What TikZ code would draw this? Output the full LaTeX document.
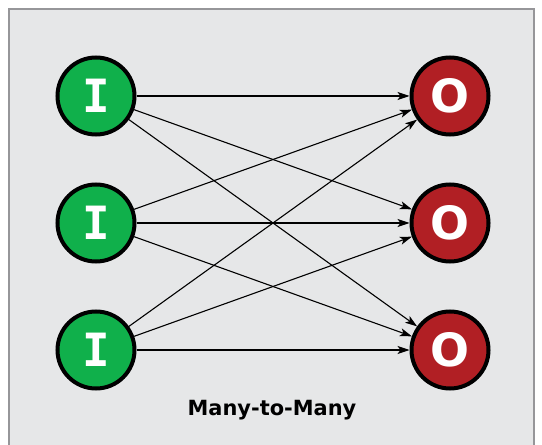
\documentclass[tikz,border=0pt]{standalone}
\usepackage{fontspec}
\setmainfont{DejaVu Sans}
\newfontfamily\slabfont{DejaVu Sans Mono}
\usepackage{tikz}
\usetikzlibrary{arrows.meta}

\definecolor{ingreen}{RGB}{16,176,75}
\definecolor{outred}{RGB}{177,31,36}
\definecolor{panelgray}{RGB}{230,231,232}
\definecolor{framegray}{RGB}{150,150,153}

\tikzset{
    inbox/.style={circle, draw=black, line width=4bp, fill=ingreen, minimum size=77bp, inner sep=0pt, text=white, font=\slabfont\bfseries\fontsize{46}{46}\selectfont},
    outbox/.style={circle, draw=black, line width=4bp, fill=outred, minimum size=77bp, inner sep=0pt, text=white, font=\bfseries\fontsize{46}{46}\selectfont},
    link/.style={line width=1.1bp, -{Stealth[length=12bp,width=8bp,inset=3bp]}}
}

\begin{document}
\begin{tikzpicture}[x=1bp, y=-1bp]
    \useasboundingbox (0,0) rectangle (542,445);
    \draw[fill=panelgray, draw=framegray, line width=2bp] (9,9) rectangle (534,460);

    \node[inbox] (i1) at (96,96) {I};
    \node[inbox] (i2) at (96,223) {I};
    \node[inbox] (i3) at (96,350) {I};
    \node[outbox] (o1) at (450,96) {O};
    \node[outbox] (o2) at (450,223) {O};
    \node[outbox] (o3) at (450,350) {O};

    \foreach \a in {1,2,3}
        \foreach \b in {1,2,3}
            \draw[link] (i\a) -- (o\b);

    \node[font=\bfseries\fontsize{21}{21}\selectfont] (title) at (272,410) {Many-to-Many};
\end{tikzpicture}
\end{document}
